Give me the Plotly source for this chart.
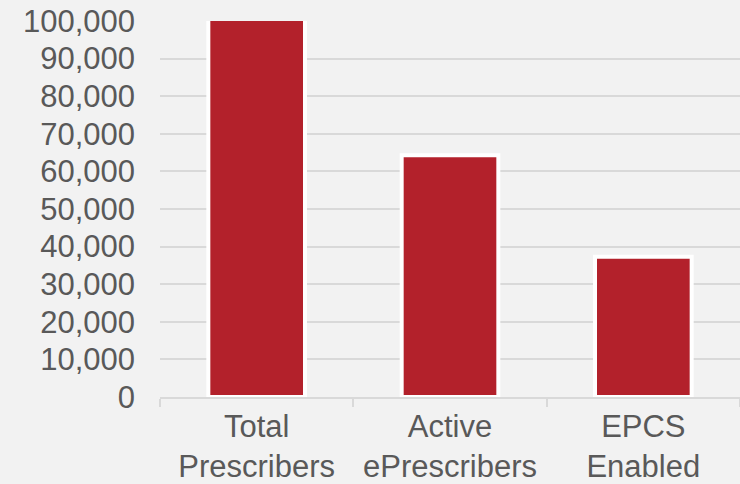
import plotly.graph_objects as go

categories = ["Total<br>Prescribers", "Active<br>ePrescribers", "EPCS<br>Enabled"]
values = [101000, 64300, 37300]
y_ticks = list(range(0, 100001, 10000))

fig = go.Figure()
fig.add_trace(go.Bar(
    x=categories,
    y=values,
    width=0.5,
    marker=dict(color="#B3212B", line=dict(color="#FFFFFF", width=4)),
))

fig.update_layout(
    width=740, height=484,
    margin=dict(l=160, r=0, t=21, b=87, pad=0),
    paper_bgcolor="#F2F2F2",
    plot_bgcolor="#F2F2F2",
    showlegend=False,
    font=dict(family="Liberation Sans, Arial, sans-serif", size=31, color="#595959"),
)
fig.update_yaxes(
    range=[0, 100000],
    tickvals=y_ticks,
    tickformat=",",
    showgrid=True, gridcolor="#D9D9D9", gridwidth=1.5,
    zeroline=False,
    showline=False,
    ticks="",
    ticklabelstandoff=24,
    automargin=False,
    tickfont=dict(size=31, color="#595959"),
)
fig.update_xaxes(
    showline=True, linecolor="#D9D9D9", linewidth=1.5,
    ticks="outside", tickson="boundaries", ticklen=8, tickcolor="#D9D9D9", tickwidth=1.5,
    ticklabelstandoff=1,
    automargin=False,
    showgrid=False,
    tickfont=dict(size=31, color="#595959"),
)

fig.write_html("out.html")
